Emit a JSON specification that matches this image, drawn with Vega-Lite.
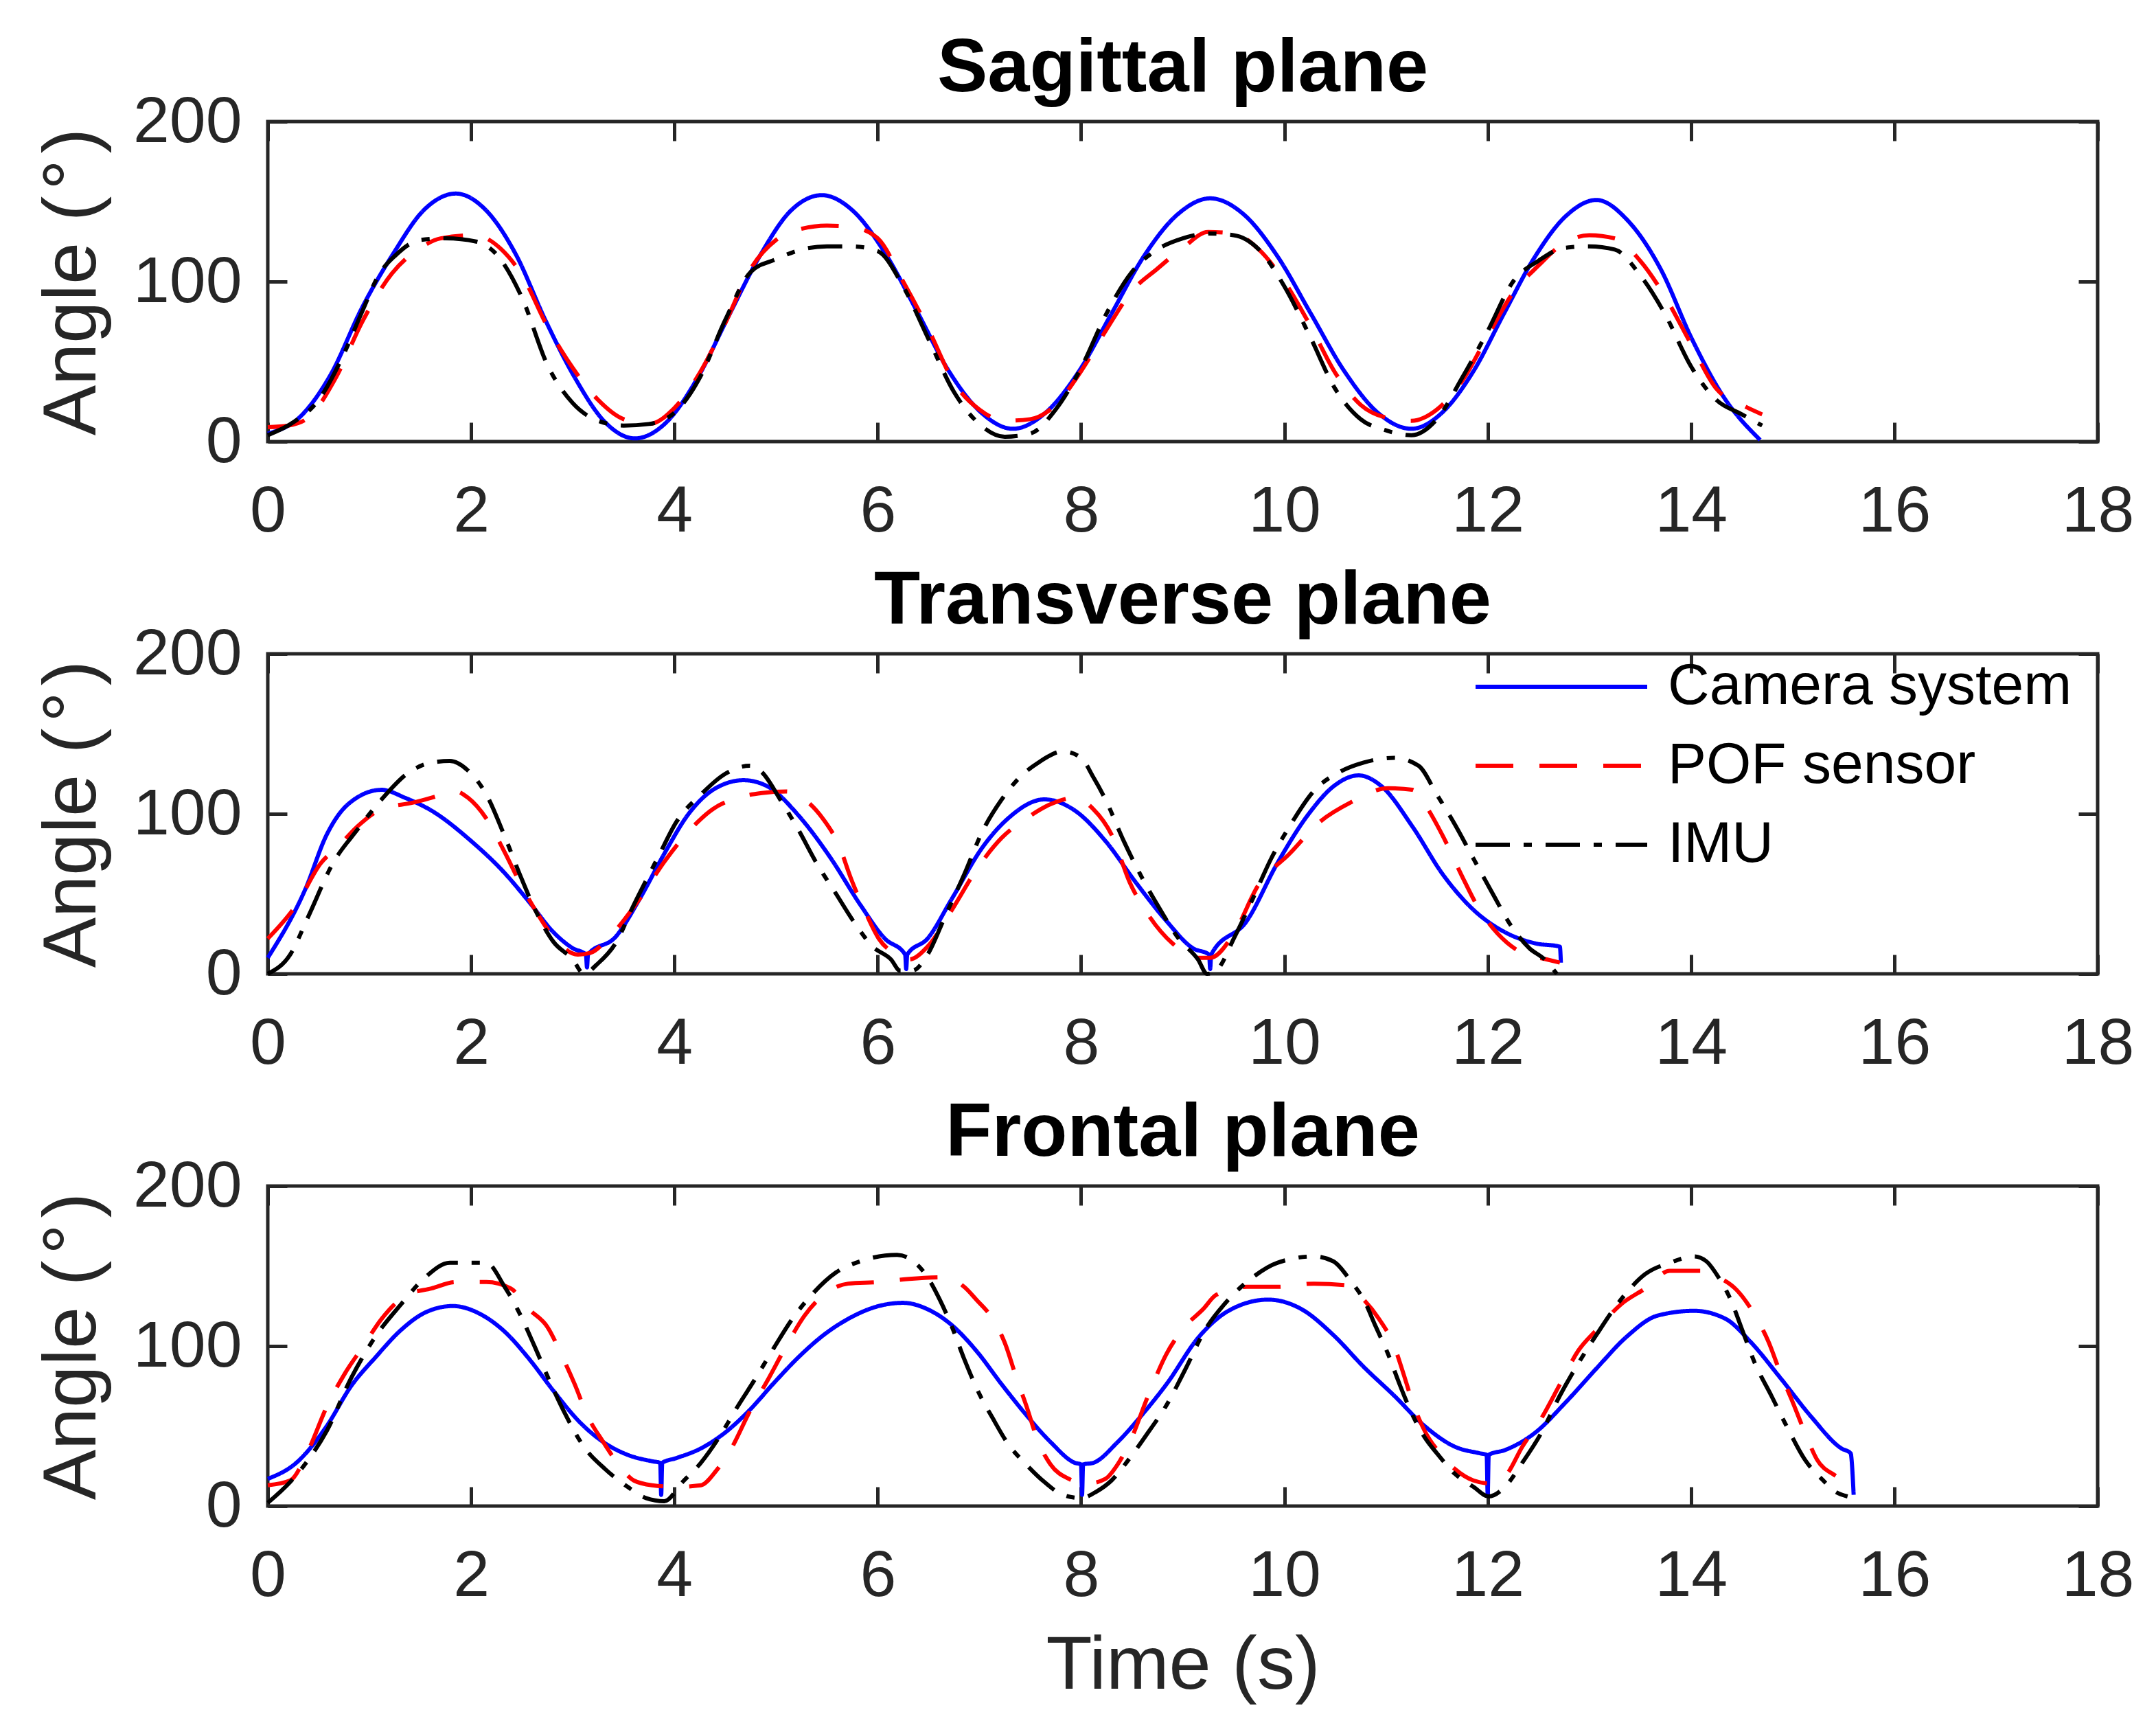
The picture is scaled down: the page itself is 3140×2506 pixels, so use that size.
{
  "$schema": "https://vega.github.io/schema/vega-lite/v6.json",
  "autosize": {"type": "none"},
  "padding": {"left": 390, "top": 177, "right": 2750, "bottom": 2329},
  "config": {
    "font": "Liberation Sans",
    "view": {"stroke": "#262626", "strokeWidth": 5},
    "axis": {
      "domain": false,
      "grid": false,
      "tickColor": "#262626",
      "tickWidth": 5,
      "tickSize": -28,
      "labelColor": "#262626",
      "labelFont": "Liberation Sans",
      "labelFontSize": 95,
      "titleFont": "Liberation Sans",
      "titleFontWeight": "normal",
      "titleColor": "#262626"
    },
    "axisX": {"labelPadding": 83, "labelFlush": false, "labelOverlap": false, "titleFontSize": 110, "titlePadding": 29},
    "axisY": {"labelPadding": 66, "labelOverlap": false, "titleFontSize": 110, "titlePadding": 32},
    "title": {"font": "Liberation Sans", "fontSize": 110, "fontWeight": "bold", "color": "#000000", "frame": "group", "anchor": "middle", "baseline": "alphabetic", "offset": 42, "dy": 68}
  },
  "datasets": {
    "sagittal": [
      {"t": 0, "v": 5, "s": "Camera system"}, {"t": 0.31, "v": 15, "s": "Camera system"}, {"t": 0.62, "v": 42, "s": "Camera system"}, {"t": 0.93, "v": 84, "s": "Camera system"}, {"t": 1.23, "v": 117, "s": "Camera system"}, {"t": 1.54, "v": 145, "s": "Camera system"}, {"t": 1.85, "v": 155, "s": "Camera system"}, {"t": 2.14, "v": 145, "s": "Camera system"}, {"t": 2.44, "v": 117, "s": "Camera system"}, {"t": 2.73, "v": 76, "s": "Camera system"}, {"t": 3.02, "v": 40, "s": "Camera system"}, {"t": 3.32, "v": 12, "s": "Camera system"}, {"t": 3.61, "v": 2, "s": "Camera system"}, {"t": 3.92, "v": 12, "s": "Camera system"}, {"t": 4.23, "v": 40, "s": "Camera system"}, {"t": 4.53, "v": 78, "s": "Camera system"}, {"t": 4.84, "v": 116, "s": "Camera system"}, {"t": 5.14, "v": 144, "s": "Camera system"}, {"t": 5.45, "v": 154, "s": "Camera system"}, {"t": 5.76, "v": 144, "s": "Camera system"}, {"t": 6.08, "v": 117, "s": "Camera system"}, {"t": 6.39, "v": 81, "s": "Camera system"}, {"t": 6.7, "v": 44, "s": "Camera system"}, {"t": 7.02, "v": 18, "s": "Camera system"}, {"t": 7.33, "v": 8, "s": "Camera system"}, {"t": 7.65, "v": 18, "s": "Camera system"}, {"t": 7.98, "v": 44, "s": "Camera system"}, {"t": 8.3, "v": 80, "s": "Camera system"}, {"t": 8.62, "v": 116, "s": "Camera system"}, {"t": 8.95, "v": 142, "s": "Camera system"}, {"t": 9.27, "v": 152, "s": "Camera system"}, {"t": 9.6, "v": 142, "s": "Camera system"}, {"t": 9.93, "v": 116, "s": "Camera system"}, {"t": 10.26, "v": 80, "s": "Camera system"}, {"t": 10.59, "v": 44, "s": "Camera system"}, {"t": 10.92, "v": 18, "s": "Camera system"}, {"t": 11.25, "v": 8, "s": "Camera system"}, {"t": 11.55, "v": 18, "s": "Camera system"}, {"t": 11.86, "v": 44, "s": "Camera system"}, {"t": 12.16, "v": 80, "s": "Camera system"}, {"t": 12.46, "v": 115, "s": "Camera system"}, {"t": 12.77, "v": 141, "s": "Camera system"}, {"t": 13.07, "v": 151, "s": "Camera system"}, {"t": 13.38, "v": 138, "s": "Camera system"}, {"t": 13.7, "v": 108, "s": "Camera system"}, {"t": 14.01, "v": 64, "s": "Camera system"}, {"t": 14.32, "v": 28, "s": "Camera system"}, {"t": 14.68, "v": 1, "s": "Camera system"},
      {"t": 0, "v": 9, "s": "POF sensor"}, {"t": 0.2, "v": 10, "s": "POF sensor"}, {"t": 0.4, "v": 15, "s": "POF sensor"}, {"t": 0.67, "v": 40, "s": "POF sensor"}, {"t": 0.93, "v": 75, "s": "POF sensor"}, {"t": 1.22, "v": 105, "s": "POF sensor"}, {"t": 1.5, "v": 121, "s": "POF sensor"}, {"t": 1.7, "v": 127, "s": "POF sensor"}, {"t": 2.03, "v": 129, "s": "POF sensor"}, {"t": 2.3, "v": 120, "s": "POF sensor"}, {"t": 2.5, "v": 104, "s": "POF sensor"}, {"t": 2.75, "v": 72, "s": "POF sensor"}, {"t": 3.0, "v": 46, "s": "POF sensor"}, {"t": 3.25, "v": 26, "s": "POF sensor"}, {"t": 3.5, "v": 14, "s": "POF sensor"}, {"t": 3.75, "v": 11, "s": "POF sensor"}, {"t": 4.0, "v": 21, "s": "POF sensor"}, {"t": 4.25, "v": 43, "s": "POF sensor"}, {"t": 4.5, "v": 74, "s": "POF sensor"}, {"t": 4.75, "v": 108, "s": "POF sensor"}, {"t": 5.0, "v": 126, "s": "POF sensor"}, {"t": 5.25, "v": 133, "s": "POF sensor"}, {"t": 5.5, "v": 135, "s": "POF sensor"}, {"t": 5.75, "v": 134, "s": "POF sensor"}, {"t": 6.0, "v": 127, "s": "POF sensor"}, {"t": 6.25, "v": 100, "s": "POF sensor"}, {"t": 6.5, "v": 70, "s": "POF sensor"}, {"t": 6.75, "v": 37, "s": "POF sensor"}, {"t": 7.0, "v": 20, "s": "POF sensor"}, {"t": 7.25, "v": 13, "s": "POF sensor"}, {"t": 7.5, "v": 14, "s": "POF sensor"}, {"t": 7.75, "v": 23, "s": "POF sensor"}, {"t": 8.0, "v": 44, "s": "POF sensor"}, {"t": 8.25, "v": 70, "s": "POF sensor"}, {"t": 8.5, "v": 94, "s": "POF sensor"}, {"t": 8.75, "v": 108, "s": "POF sensor"}, {"t": 9.0, "v": 121, "s": "POF sensor"}, {"t": 9.25, "v": 131, "s": "POF sensor"}, {"t": 9.5, "v": 130, "s": "POF sensor"}, {"t": 9.75, "v": 120, "s": "POF sensor"}, {"t": 10.0, "v": 100, "s": "POF sensor"}, {"t": 10.25, "v": 73, "s": "POF sensor"}, {"t": 10.5, "v": 43, "s": "POF sensor"}, {"t": 10.75, "v": 23, "s": "POF sensor"}, {"t": 11.0, "v": 15, "s": "POF sensor"}, {"t": 11.25, "v": 13, "s": "POF sensor"}, {"t": 11.5, "v": 20, "s": "POF sensor"}, {"t": 11.75, "v": 38, "s": "POF sensor"}, {"t": 12.0, "v": 66, "s": "POF sensor"}, {"t": 12.25, "v": 93, "s": "POF sensor"}, {"t": 12.5, "v": 110, "s": "POF sensor"}, {"t": 12.75, "v": 124, "s": "POF sensor"}, {"t": 13.0, "v": 129, "s": "POF sensor"}, {"t": 13.25, "v": 127, "s": "POF sensor"}, {"t": 13.5, "v": 113, "s": "POF sensor"}, {"t": 13.75, "v": 90, "s": "POF sensor"}, {"t": 14.0, "v": 61, "s": "POF sensor"}, {"t": 14.25, "v": 33, "s": "POF sensor"}, {"t": 14.5, "v": 23, "s": "POF sensor"}, {"t": 14.7, "v": 17, "s": "POF sensor"},
      {"t": 0, "v": 4, "s": "IMU"}, {"t": 0.25, "v": 12, "s": "IMU"}, {"t": 0.5, "v": 26, "s": "IMU"}, {"t": 0.75, "v": 55, "s": "IMU"}, {"t": 0.92, "v": 80, "s": "IMU"}, {"t": 1.1, "v": 105, "s": "IMU"}, {"t": 1.25, "v": 116, "s": "IMU"}, {"t": 1.5, "v": 126, "s": "IMU"}, {"t": 1.75, "v": 127, "s": "IMU"}, {"t": 2.05, "v": 125, "s": "IMU"}, {"t": 2.25, "v": 117, "s": "IMU"}, {"t": 2.5, "v": 90, "s": "IMU"}, {"t": 2.75, "v": 48, "s": "IMU"}, {"t": 3.0, "v": 24, "s": "IMU"}, {"t": 3.25, "v": 13, "s": "IMU"}, {"t": 3.5, "v": 10, "s": "IMU"}, {"t": 3.75, "v": 11, "s": "IMU"}, {"t": 4.0, "v": 18, "s": "IMU"}, {"t": 4.25, "v": 40, "s": "IMU"}, {"t": 4.5, "v": 76, "s": "IMU"}, {"t": 4.75, "v": 106, "s": "IMU"}, {"t": 5.0, "v": 114, "s": "IMU"}, {"t": 5.25, "v": 120, "s": "IMU"}, {"t": 5.5, "v": 122, "s": "IMU"}, {"t": 5.75, "v": 122, "s": "IMU"}, {"t": 6.0, "v": 119, "s": "IMU"}, {"t": 6.25, "v": 97, "s": "IMU"}, {"t": 6.5, "v": 64, "s": "IMU"}, {"t": 6.75, "v": 31, "s": "IMU"}, {"t": 7.0, "v": 11, "s": "IMU"}, {"t": 7.25, "v": 3, "s": "IMU"}, {"t": 7.5, "v": 5, "s": "IMU"}, {"t": 7.75, "v": 20, "s": "IMU"}, {"t": 8.0, "v": 46, "s": "IMU"}, {"t": 8.25, "v": 80, "s": "IMU"}, {"t": 8.5, "v": 106, "s": "IMU"}, {"t": 8.75, "v": 120, "s": "IMU"}, {"t": 9.0, "v": 127, "s": "IMU"}, {"t": 9.25, "v": 130, "s": "IMU"}, {"t": 9.5, "v": 129, "s": "IMU"}, {"t": 9.75, "v": 120, "s": "IMU"}, {"t": 10.0, "v": 97, "s": "IMU"}, {"t": 10.25, "v": 66, "s": "IMU"}, {"t": 10.5, "v": 33, "s": "IMU"}, {"t": 10.75, "v": 14, "s": "IMU"}, {"t": 11.0, "v": 7, "s": "IMU"}, {"t": 11.25, "v": 4, "s": "IMU"}, {"t": 11.5, "v": 14, "s": "IMU"}, {"t": 11.75, "v": 40, "s": "IMU"}, {"t": 12.0, "v": 69, "s": "IMU"}, {"t": 12.25, "v": 100, "s": "IMU"}, {"t": 12.5, "v": 113, "s": "IMU"}, {"t": 12.75, "v": 121, "s": "IMU"}, {"t": 13.0, "v": 122, "s": "IMU"}, {"t": 13.25, "v": 120, "s": "IMU"}, {"t": 13.5, "v": 104, "s": "IMU"}, {"t": 13.75, "v": 79, "s": "IMU"}, {"t": 14.0, "v": 47, "s": "IMU"}, {"t": 14.25, "v": 26, "s": "IMU"}, {"t": 14.5, "v": 17, "s": "IMU"}, {"t": 14.7, "v": 10, "s": "IMU"}
    ],
    "transverse": [
      {"t": 0, "v": 10, "s": "Camera system"}, {"t": 0.37, "v": 53, "s": "Camera system"}, {"t": 0.58, "v": 87, "s": "Camera system"}, {"t": 0.79, "v": 106, "s": "Camera system"}, {"t": 1.12, "v": 115, "s": "Camera system"}, {"t": 1.35, "v": 110, "s": "Camera system"}, {"t": 1.61, "v": 102, "s": "Camera system"}, {"t": 2.0, "v": 83, "s": "Camera system"}, {"t": 2.33, "v": 63, "s": "Camera system"}, {"t": 2.57, "v": 45, "s": "Camera system"}, {"t": 2.81, "v": 26, "s": "Camera system"}, {"t": 3.0, "v": 16, "s": "Camera system"}, {"t": 3.13, "v": 12, "s": "Camera system"}, {"t": 3.14, "v": 4, "s": "Camera system"}, {"t": 3.15, "v": 12, "s": "Camera system"}, {"t": 3.42, "v": 23, "s": "Camera system"}, {"t": 3.66, "v": 47, "s": "Camera system"}, {"t": 3.9, "v": 75, "s": "Camera system"}, {"t": 4.14, "v": 100, "s": "Camera system"}, {"t": 4.38, "v": 115, "s": "Camera system"}, {"t": 4.68, "v": 121, "s": "Camera system"}, {"t": 4.92, "v": 117, "s": "Camera system"}, {"t": 5.22, "v": 99, "s": "Camera system"}, {"t": 5.53, "v": 73, "s": "Camera system"}, {"t": 5.83, "v": 43, "s": "Camera system"}, {"t": 6.07, "v": 22, "s": "Camera system"}, {"t": 6.27, "v": 12, "s": "Camera system"}, {"t": 6.28, "v": 3, "s": "Camera system"}, {"t": 6.29, "v": 12, "s": "Camera system"}, {"t": 6.49, "v": 22, "s": "Camera system"}, {"t": 6.73, "v": 47, "s": "Camera system"}, {"t": 7.03, "v": 79, "s": "Camera system"}, {"t": 7.28, "v": 97, "s": "Camera system"}, {"t": 7.64, "v": 109, "s": "Camera system"}, {"t": 7.94, "v": 102, "s": "Camera system"}, {"t": 8.24, "v": 83, "s": "Camera system"}, {"t": 8.54, "v": 57, "s": "Camera system"}, {"t": 8.84, "v": 33, "s": "Camera system"}, {"t": 9.1, "v": 16, "s": "Camera system"}, {"t": 9.26, "v": 12, "s": "Camera system"}, {"t": 9.27, "v": 3, "s": "Camera system"}, {"t": 9.28, "v": 12, "s": "Camera system"}, {"t": 9.63, "v": 33, "s": "Camera system"}, {"t": 9.93, "v": 69, "s": "Camera system"}, {"t": 10.24, "v": 100, "s": "Camera system"}, {"t": 10.48, "v": 117, "s": "Camera system"}, {"t": 10.73, "v": 124, "s": "Camera system"}, {"t": 10.96, "v": 117, "s": "Camera system"}, {"t": 11.26, "v": 92, "s": "Camera system"}, {"t": 11.56, "v": 62, "s": "Camera system"}, {"t": 11.86, "v": 40, "s": "Camera system"}, {"t": 12.17, "v": 26, "s": "Camera system"}, {"t": 12.47, "v": 19, "s": "Camera system"}, {"t": 12.71, "v": 17, "s": "Camera system"}, {"t": 12.72, "v": 7, "s": "Camera system"},
      {"t": 0, "v": 22, "s": "POF sensor"}, {"t": 0.28, "v": 43, "s": "POF sensor"}, {"t": 0.52, "v": 69, "s": "POF sensor"}, {"t": 0.7, "v": 80, "s": "POF sensor"}, {"t": 0.88, "v": 92, "s": "POF sensor"}, {"t": 1.12, "v": 103, "s": "POF sensor"}, {"t": 1.43, "v": 107, "s": "POF sensor"}, {"t": 1.61, "v": 110, "s": "POF sensor"}, {"t": 1.85, "v": 114, "s": "POF sensor"}, {"t": 1.97, "v": 110, "s": "POF sensor"}, {"t": 2.15, "v": 97, "s": "POF sensor"}, {"t": 2.33, "v": 76, "s": "POF sensor"}, {"t": 2.48, "v": 57, "s": "POF sensor"}, {"t": 2.63, "v": 40, "s": "POF sensor"}, {"t": 2.81, "v": 23, "s": "POF sensor"}, {"t": 3.05, "v": 12, "s": "POF sensor"}, {"t": 3.17, "v": 13, "s": "POF sensor"}, {"t": 3.36, "v": 23, "s": "POF sensor"}, {"t": 3.66, "v": 47, "s": "POF sensor"}, {"t": 3.9, "v": 70, "s": "POF sensor"}, {"t": 4.14, "v": 89, "s": "POF sensor"}, {"t": 4.38, "v": 103, "s": "POF sensor"}, {"t": 4.62, "v": 110, "s": "POF sensor"}, {"t": 4.86, "v": 113, "s": "POF sensor"}, {"t": 5.1, "v": 114, "s": "POF sensor"}, {"t": 5.28, "v": 109, "s": "POF sensor"}, {"t": 5.46, "v": 97, "s": "POF sensor"}, {"t": 5.62, "v": 80, "s": "POF sensor"}, {"t": 5.74, "v": 59, "s": "POF sensor"}, {"t": 5.89, "v": 37, "s": "POF sensor"}, {"t": 6.01, "v": 22, "s": "POF sensor"}, {"t": 6.19, "v": 12, "s": "POF sensor"}, {"t": 6.31, "v": 9, "s": "POF sensor"}, {"t": 6.49, "v": 17, "s": "POF sensor"}, {"t": 6.73, "v": 40, "s": "POF sensor"}, {"t": 6.97, "v": 65, "s": "POF sensor"}, {"t": 7.22, "v": 85, "s": "POF sensor"}, {"t": 7.46, "v": 97, "s": "POF sensor"}, {"t": 7.7, "v": 106, "s": "POF sensor"}, {"t": 7.94, "v": 110, "s": "POF sensor"}, {"t": 8.12, "v": 103, "s": "POF sensor"}, {"t": 8.3, "v": 87, "s": "POF sensor"}, {"t": 8.48, "v": 57, "s": "POF sensor"}, {"t": 8.66, "v": 37, "s": "POF sensor"}, {"t": 8.9, "v": 19, "s": "POF sensor"}, {"t": 9.15, "v": 10, "s": "POF sensor"}, {"t": 9.27, "v": 10, "s": "POF sensor"}, {"t": 9.51, "v": 26, "s": "POF sensor"}, {"t": 9.74, "v": 55, "s": "POF sensor"}, {"t": 10.05, "v": 75, "s": "POF sensor"}, {"t": 10.35, "v": 95, "s": "POF sensor"}, {"t": 10.65, "v": 107, "s": "POF sensor"}, {"t": 11.02, "v": 116, "s": "POF sensor"}, {"t": 11.26, "v": 115, "s": "POF sensor"}, {"t": 11.38, "v": 106, "s": "POF sensor"}, {"t": 11.56, "v": 86, "s": "POF sensor"}, {"t": 11.74, "v": 62, "s": "POF sensor"}, {"t": 11.92, "v": 40, "s": "POF sensor"}, {"t": 12.1, "v": 25, "s": "POF sensor"}, {"t": 12.34, "v": 13, "s": "POF sensor"}, {"t": 12.58, "v": 9, "s": "POF sensor"}, {"t": 12.71, "v": 7, "s": "POF sensor"},
      {"t": 0, "v": 0, "s": "IMU"}, {"t": 0.22, "v": 12, "s": "IMU"}, {"t": 0.4, "v": 36, "s": "IMU"}, {"t": 0.64, "v": 69, "s": "IMU"}, {"t": 0.88, "v": 90, "s": "IMU"}, {"t": 1.12, "v": 109, "s": "IMU"}, {"t": 1.37, "v": 125, "s": "IMU"}, {"t": 1.61, "v": 132, "s": "IMU"}, {"t": 1.79, "v": 133, "s": "IMU"}, {"t": 1.97, "v": 127, "s": "IMU"}, {"t": 2.15, "v": 112, "s": "IMU"}, {"t": 2.33, "v": 86, "s": "IMU"}, {"t": 2.48, "v": 62, "s": "IMU"}, {"t": 2.63, "v": 40, "s": "IMU"}, {"t": 2.81, "v": 20, "s": "IMU"}, {"t": 3.0, "v": 9, "s": "IMU"}, {"t": 3.11, "v": 0, "s": "IMU"}, {"t": 3.24, "v": 6, "s": "IMU"}, {"t": 3.42, "v": 19, "s": "IMU"}, {"t": 3.6, "v": 43, "s": "IMU"}, {"t": 3.84, "v": 73, "s": "IMU"}, {"t": 4.02, "v": 95, "s": "IMU"}, {"t": 4.26, "v": 112, "s": "IMU"}, {"t": 4.5, "v": 125, "s": "IMU"}, {"t": 4.74, "v": 130, "s": "IMU"}, {"t": 4.86, "v": 126, "s": "IMU"}, {"t": 5.04, "v": 109, "s": "IMU"}, {"t": 5.22, "v": 90, "s": "IMU"}, {"t": 5.4, "v": 69, "s": "IMU"}, {"t": 5.59, "v": 50, "s": "IMU"}, {"t": 5.77, "v": 32, "s": "IMU"}, {"t": 5.95, "v": 17, "s": "IMU"}, {"t": 6.13, "v": 9, "s": "IMU"}, {"t": 6.22, "v": 2, "s": "IMU"}, {"t": 6.34, "v": 2, "s": "IMU"}, {"t": 6.49, "v": 12, "s": "IMU"}, {"t": 6.67, "v": 37, "s": "IMU"}, {"t": 6.85, "v": 62, "s": "IMU"}, {"t": 7.03, "v": 89, "s": "IMU"}, {"t": 7.22, "v": 109, "s": "IMU"}, {"t": 7.4, "v": 123, "s": "IMU"}, {"t": 7.58, "v": 132, "s": "IMU"}, {"t": 7.82, "v": 139, "s": "IMU"}, {"t": 8.0, "v": 135, "s": "IMU"}, {"t": 8.12, "v": 123, "s": "IMU"}, {"t": 8.24, "v": 109, "s": "IMU"}, {"t": 8.42, "v": 83, "s": "IMU"}, {"t": 8.6, "v": 60, "s": "IMU"}, {"t": 8.78, "v": 40, "s": "IMU"}, {"t": 8.96, "v": 22, "s": "IMU"}, {"t": 9.15, "v": 9, "s": "IMU"}, {"t": 9.24, "v": 0, "s": "IMU"}, {"t": 9.33, "v": 2, "s": "IMU"}, {"t": 9.51, "v": 23, "s": "IMU"}, {"t": 9.69, "v": 47, "s": "IMU"}, {"t": 9.87, "v": 72, "s": "IMU"}, {"t": 10.05, "v": 92, "s": "IMU"}, {"t": 10.3, "v": 115, "s": "IMU"}, {"t": 10.54, "v": 126, "s": "IMU"}, {"t": 10.78, "v": 132, "s": "IMU"}, {"t": 11.08, "v": 135, "s": "IMU"}, {"t": 11.32, "v": 130, "s": "IMU"}, {"t": 11.5, "v": 112, "s": "IMU"}, {"t": 11.68, "v": 93, "s": "IMU"}, {"t": 11.86, "v": 72, "s": "IMU"}, {"t": 12.05, "v": 50, "s": "IMU"}, {"t": 12.23, "v": 30, "s": "IMU"}, {"t": 12.41, "v": 16, "s": "IMU"}, {"t": 12.56, "v": 9, "s": "IMU"}, {"t": 12.68, "v": 0, "s": "IMU"}
    ],
    "frontal": [
      {"t": 0, "v": 17, "s": "Camera system"}, {"t": 0.28, "v": 27, "s": "Camera system"}, {"t": 0.58, "v": 50, "s": "Camera system"}, {"t": 0.82, "v": 75, "s": "Camera system"}, {"t": 1.06, "v": 93, "s": "Camera system"}, {"t": 1.31, "v": 110, "s": "Camera system"}, {"t": 1.55, "v": 121, "s": "Camera system"}, {"t": 1.82, "v": 125, "s": "Camera system"}, {"t": 2.09, "v": 120, "s": "Camera system"}, {"t": 2.33, "v": 109, "s": "Camera system"}, {"t": 2.57, "v": 92, "s": "Camera system"}, {"t": 2.81, "v": 72, "s": "Camera system"}, {"t": 3.06, "v": 53, "s": "Camera system"}, {"t": 3.3, "v": 40, "s": "Camera system"}, {"t": 3.54, "v": 32, "s": "Camera system"}, {"t": 3.78, "v": 28, "s": "Camera system"}, {"t": 3.86, "v": 27, "s": "Camera system"}, {"t": 3.87, "v": 7, "s": "Camera system"}, {"t": 3.88, "v": 27, "s": "Camera system"}, {"t": 4.02, "v": 30, "s": "Camera system"}, {"t": 4.26, "v": 36, "s": "Camera system"}, {"t": 4.5, "v": 46, "s": "Camera system"}, {"t": 4.74, "v": 60, "s": "Camera system"}, {"t": 4.98, "v": 77, "s": "Camera system"}, {"t": 5.22, "v": 93, "s": "Camera system"}, {"t": 5.47, "v": 107, "s": "Camera system"}, {"t": 5.71, "v": 117, "s": "Camera system"}, {"t": 6.01, "v": 125, "s": "Camera system"}, {"t": 6.25, "v": 127, "s": "Camera system"}, {"t": 6.49, "v": 123, "s": "Camera system"}, {"t": 6.73, "v": 113, "s": "Camera system"}, {"t": 6.97, "v": 97, "s": "Camera system"}, {"t": 7.22, "v": 76, "s": "Camera system"}, {"t": 7.46, "v": 57, "s": "Camera system"}, {"t": 7.7, "v": 40, "s": "Camera system"}, {"t": 7.94, "v": 27, "s": "Camera system"}, {"t": 8.0, "v": 26, "s": "Camera system"}, {"t": 8.01, "v": 7, "s": "Camera system"}, {"t": 8.02, "v": 26, "s": "Camera system"}, {"t": 8.12, "v": 27, "s": "Camera system"}, {"t": 8.36, "v": 40, "s": "Camera system"}, {"t": 8.6, "v": 57, "s": "Camera system"}, {"t": 8.85, "v": 77, "s": "Camera system"}, {"t": 9.15, "v": 105, "s": "Camera system"}, {"t": 9.45, "v": 122, "s": "Camera system"}, {"t": 9.84, "v": 129, "s": "Camera system"}, {"t": 10.17, "v": 123, "s": "Camera system"}, {"t": 10.48, "v": 107, "s": "Camera system"}, {"t": 10.78, "v": 87, "s": "Camera system"}, {"t": 11.08, "v": 69, "s": "Camera system"}, {"t": 11.38, "v": 50, "s": "Camera system"}, {"t": 11.68, "v": 37, "s": "Camera system"}, {"t": 11.92, "v": 33, "s": "Camera system"}, {"t": 11.99, "v": 32, "s": "Camera system"}, {"t": 12.0, "v": 7, "s": "Camera system"}, {"t": 12.01, "v": 32, "s": "Camera system"}, {"t": 12.17, "v": 35, "s": "Camera system"}, {"t": 12.47, "v": 46, "s": "Camera system"}, {"t": 12.77, "v": 65, "s": "Camera system"}, {"t": 13.07, "v": 86, "s": "Camera system"}, {"t": 13.37, "v": 106, "s": "Camera system"}, {"t": 13.67, "v": 119, "s": "Camera system"}, {"t": 14.03, "v": 122, "s": "Camera system"}, {"t": 14.34, "v": 117, "s": "Camera system"}, {"t": 14.58, "v": 103, "s": "Camera system"}, {"t": 14.88, "v": 80, "s": "Camera system"}, {"t": 15.18, "v": 56, "s": "Camera system"}, {"t": 15.48, "v": 36, "s": "Camera system"}, {"t": 15.57, "v": 33, "s": "Camera system"}, {"t": 15.6, "v": 7, "s": "Camera system"},
      {"t": 0, "v": 13, "s": "POF sensor"}, {"t": 0.22, "v": 16, "s": "POF sensor"}, {"t": 0.4, "v": 35, "s": "POF sensor"}, {"t": 0.58, "v": 62, "s": "POF sensor"}, {"t": 0.76, "v": 83, "s": "POF sensor"}, {"t": 0.94, "v": 100, "s": "POF sensor"}, {"t": 1.12, "v": 117, "s": "POF sensor"}, {"t": 1.37, "v": 132, "s": "POF sensor"}, {"t": 1.61, "v": 136, "s": "POF sensor"}, {"t": 1.85, "v": 140, "s": "POF sensor"}, {"t": 2.15, "v": 140, "s": "POF sensor"}, {"t": 2.39, "v": 136, "s": "POF sensor"}, {"t": 2.57, "v": 123, "s": "POF sensor"}, {"t": 2.75, "v": 112, "s": "POF sensor"}, {"t": 2.9, "v": 93, "s": "POF sensor"}, {"t": 3.02, "v": 76, "s": "POF sensor"}, {"t": 3.14, "v": 57, "s": "POF sensor"}, {"t": 3.3, "v": 40, "s": "POF sensor"}, {"t": 3.45, "v": 26, "s": "POF sensor"}, {"t": 3.6, "v": 16, "s": "POF sensor"}, {"t": 3.78, "v": 13, "s": "POF sensor"}, {"t": 4.02, "v": 12, "s": "POF sensor"}, {"t": 4.26, "v": 13, "s": "POF sensor"}, {"t": 4.41, "v": 22, "s": "POF sensor"}, {"t": 4.56, "v": 36, "s": "POF sensor"}, {"t": 4.74, "v": 59, "s": "POF sensor"}, {"t": 4.92, "v": 79, "s": "POF sensor"}, {"t": 5.1, "v": 100, "s": "POF sensor"}, {"t": 5.28, "v": 119, "s": "POF sensor"}, {"t": 5.47, "v": 132, "s": "POF sensor"}, {"t": 5.71, "v": 139, "s": "POF sensor"}, {"t": 6.01, "v": 140, "s": "POF sensor"}, {"t": 6.31, "v": 142, "s": "POF sensor"}, {"t": 6.67, "v": 143, "s": "POF sensor"}, {"t": 6.85, "v": 137, "s": "POF sensor"}, {"t": 6.97, "v": 129, "s": "POF sensor"}, {"t": 7.13, "v": 117, "s": "POF sensor"}, {"t": 7.25, "v": 102, "s": "POF sensor"}, {"t": 7.37, "v": 79, "s": "POF sensor"}, {"t": 7.46, "v": 63, "s": "POF sensor"}, {"t": 7.58, "v": 40, "s": "POF sensor"}, {"t": 7.7, "v": 26, "s": "POF sensor"}, {"t": 7.88, "v": 17, "s": "POF sensor"}, {"t": 8.06, "v": 14, "s": "POF sensor"}, {"t": 8.24, "v": 17, "s": "POF sensor"}, {"t": 8.36, "v": 26, "s": "POF sensor"}, {"t": 8.48, "v": 40, "s": "POF sensor"}, {"t": 8.66, "v": 69, "s": "POF sensor"}, {"t": 8.84, "v": 95, "s": "POF sensor"}, {"t": 9.02, "v": 112, "s": "POF sensor"}, {"t": 9.2, "v": 123, "s": "POF sensor"}, {"t": 9.33, "v": 132, "s": "POF sensor"}, {"t": 9.63, "v": 137, "s": "POF sensor"}, {"t": 9.93, "v": 137, "s": "POF sensor"}, {"t": 10.29, "v": 139, "s": "POF sensor"}, {"t": 10.6, "v": 138, "s": "POF sensor"}, {"t": 10.78, "v": 129, "s": "POF sensor"}, {"t": 10.93, "v": 117, "s": "POF sensor"}, {"t": 11.08, "v": 100, "s": "POF sensor"}, {"t": 11.17, "v": 83, "s": "POF sensor"}, {"t": 11.26, "v": 65, "s": "POF sensor"}, {"t": 11.38, "v": 47, "s": "POF sensor"}, {"t": 11.53, "v": 33, "s": "POF sensor"}, {"t": 11.68, "v": 23, "s": "POF sensor"}, {"t": 11.86, "v": 16, "s": "POF sensor"}, {"t": 12.04, "v": 14, "s": "POF sensor"}, {"t": 12.19, "v": 20, "s": "POF sensor"}, {"t": 12.34, "v": 37, "s": "POF sensor"}, {"t": 12.53, "v": 55, "s": "POF sensor"}, {"t": 12.71, "v": 76, "s": "POF sensor"}, {"t": 12.89, "v": 97, "s": "POF sensor"}, {"t": 13.07, "v": 110, "s": "POF sensor"}, {"t": 13.31, "v": 126, "s": "POF sensor"}, {"t": 13.55, "v": 136, "s": "POF sensor"}, {"t": 13.79, "v": 147, "s": "POF sensor"}, {"t": 14.09, "v": 147, "s": "POF sensor"}, {"t": 14.27, "v": 143, "s": "POF sensor"}, {"t": 14.45, "v": 135, "s": "POF sensor"}, {"t": 14.63, "v": 119, "s": "POF sensor"}, {"t": 14.76, "v": 103, "s": "POF sensor"}, {"t": 14.88, "v": 83, "s": "POF sensor"}, {"t": 15.0, "v": 65, "s": "POF sensor"}, {"t": 15.12, "v": 46, "s": "POF sensor"}, {"t": 15.24, "v": 29, "s": "POF sensor"}, {"t": 15.42, "v": 19, "s": "POF sensor"}, {"t": 15.6, "v": 13, "s": "POF sensor"},
      {"t": 0, "v": 2, "s": "IMU"}, {"t": 0.22, "v": 15, "s": "IMU"}, {"t": 0.4, "v": 29, "s": "IMU"}, {"t": 0.58, "v": 47, "s": "IMU"}, {"t": 0.82, "v": 80, "s": "IMU"}, {"t": 1.06, "v": 106, "s": "IMU"}, {"t": 1.31, "v": 126, "s": "IMU"}, {"t": 1.55, "v": 143, "s": "IMU"}, {"t": 1.79, "v": 152, "s": "IMU"}, {"t": 2.15, "v": 152, "s": "IMU"}, {"t": 2.33, "v": 137, "s": "IMU"}, {"t": 2.48, "v": 120, "s": "IMU"}, {"t": 2.63, "v": 99, "s": "IMU"}, {"t": 2.78, "v": 77, "s": "IMU"}, {"t": 2.93, "v": 57, "s": "IMU"}, {"t": 3.11, "v": 37, "s": "IMU"}, {"t": 3.32, "v": 23, "s": "IMU"}, {"t": 3.54, "v": 12, "s": "IMU"}, {"t": 3.72, "v": 5, "s": "IMU"}, {"t": 3.9, "v": 3, "s": "IMU"}, {"t": 4.08, "v": 15, "s": "IMU"}, {"t": 4.26, "v": 27, "s": "IMU"}, {"t": 4.44, "v": 43, "s": "IMU"}, {"t": 4.62, "v": 62, "s": "IMU"}, {"t": 4.8, "v": 80, "s": "IMU"}, {"t": 4.98, "v": 99, "s": "IMU"}, {"t": 5.16, "v": 117, "s": "IMU"}, {"t": 5.35, "v": 132, "s": "IMU"}, {"t": 5.59, "v": 146, "s": "IMU"}, {"t": 5.83, "v": 153, "s": "IMU"}, {"t": 6.19, "v": 157, "s": "IMU"}, {"t": 6.37, "v": 152, "s": "IMU"}, {"t": 6.49, "v": 143, "s": "IMU"}, {"t": 6.61, "v": 129, "s": "IMU"}, {"t": 6.73, "v": 112, "s": "IMU"}, {"t": 6.85, "v": 92, "s": "IMU"}, {"t": 7.0, "v": 70, "s": "IMU"}, {"t": 7.13, "v": 55, "s": "IMU"}, {"t": 7.28, "v": 39, "s": "IMU"}, {"t": 7.46, "v": 26, "s": "IMU"}, {"t": 7.64, "v": 15, "s": "IMU"}, {"t": 7.82, "v": 7, "s": "IMU"}, {"t": 8.0, "v": 5, "s": "IMU"}, {"t": 8.15, "v": 9, "s": "IMU"}, {"t": 8.3, "v": 16, "s": "IMU"}, {"t": 8.48, "v": 30, "s": "IMU"}, {"t": 8.66, "v": 46, "s": "IMU"}, {"t": 8.84, "v": 63, "s": "IMU"}, {"t": 9.03, "v": 86, "s": "IMU"}, {"t": 9.21, "v": 109, "s": "IMU"}, {"t": 9.45, "v": 129, "s": "IMU"}, {"t": 9.69, "v": 143, "s": "IMU"}, {"t": 9.93, "v": 152, "s": "IMU"}, {"t": 10.29, "v": 156, "s": "IMU"}, {"t": 10.48, "v": 153, "s": "IMU"}, {"t": 10.66, "v": 140, "s": "IMU"}, {"t": 10.78, "v": 129, "s": "IMU"}, {"t": 10.9, "v": 112, "s": "IMU"}, {"t": 11.02, "v": 95, "s": "IMU"}, {"t": 11.14, "v": 75, "s": "IMU"}, {"t": 11.26, "v": 57, "s": "IMU"}, {"t": 11.38, "v": 43, "s": "IMU"}, {"t": 11.5, "v": 33, "s": "IMU"}, {"t": 11.68, "v": 20, "s": "IMU"}, {"t": 11.86, "v": 12, "s": "IMU"}, {"t": 12.01, "v": 6, "s": "IMU"}, {"t": 12.17, "v": 12, "s": "IMU"}, {"t": 12.34, "v": 27, "s": "IMU"}, {"t": 12.53, "v": 46, "s": "IMU"}, {"t": 12.71, "v": 69, "s": "IMU"}, {"t": 12.89, "v": 89, "s": "IMU"}, {"t": 13.07, "v": 107, "s": "IMU"}, {"t": 13.31, "v": 129, "s": "IMU"}, {"t": 13.55, "v": 145, "s": "IMU"}, {"t": 13.79, "v": 152, "s": "IMU"}, {"t": 14.03, "v": 156, "s": "IMU"}, {"t": 14.15, "v": 153, "s": "IMU"}, {"t": 14.27, "v": 143, "s": "IMU"}, {"t": 14.39, "v": 129, "s": "IMU"}, {"t": 14.51, "v": 109, "s": "IMU"}, {"t": 14.63, "v": 89, "s": "IMU"}, {"t": 14.79, "v": 69, "s": "IMU"}, {"t": 14.94, "v": 50, "s": "IMU"}, {"t": 15.12, "v": 29, "s": "IMU"}, {"t": 15.3, "v": 16, "s": "IMU"}, {"t": 15.42, "v": 9, "s": "IMU"}, {"t": 15.54, "v": 6, "s": "IMU"}
    ]
  },
  "bounds": "flush",
  "spacing": 309,
  "resolve": {"scale": {"color": "independent", "strokeDash": "independent"}, "legend": {"color": "independent", "strokeDash": "independent"}},
  "vconcat": [
    {
      "title": {"text": "Sagittal plane"},
      "width": 2665,
      "height": 466,
      "data": {"name": "sagittal"},
      "layer": [
        {
          "mark": {"type": "line", "strokeWidth": 6, "interpolate": "monotone"},
          "encoding": {
            "x": {"field": "t", "type": "quantitative", "scale": {"domain": [0, 18], "nice": false}, "axis": {"orient": "bottom", "values": [0, 2, 4, 6, 8, 10, 12, 14, 16, 18], "title": null}},
            "y": {"field": "v", "type": "quantitative", "scale": {"domain": [0, 200], "nice": false}, "axis": {"orient": "left", "values": [0, 100, 200], "title": "Angle (\u200a°\u200a)"}},
            "color": {"field": "s", "type": "nominal", "scale": {"domain": ["Camera system", "POF sensor", "IMU"], "range": ["#0000ff", "#ff0000", "#000000"]}, "legend": null},
            "strokeDash": {"field": "s", "type": "nominal", "scale": {"domain": ["Camera system", "POF sensor", "IMU"], "range": [[1, 0], [55, 38], [50, 20, 12, 20]]}, "legend": null}
          }
        },
        {
          "mark": {"type": "line", "strokeOpacity": 0},
          "encoding": {
            "x": {"field": "t", "type": "quantitative", "scale": {"domain": [0, 18], "nice": false}, "axis": {"orient": "top", "values": [0, 2, 4, 6, 8, 10, 12, 14, 16, 18], "labels": false, "title": null}},
            "y": {"field": "v", "type": "quantitative", "scale": {"domain": [0, 200], "nice": false}, "axis": {"orient": "right", "values": [0, 100, 200], "labels": false, "title": null}}
          }
        }
      ],
      "resolve": {"scale": {"x": "independent", "y": "independent"}, "axis": {"x": "independent", "y": "independent"}}
    },
    {
      "title": {"text": "Transverse plane"},
      "width": 2665,
      "height": 466,
      "data": {"name": "transverse"},
      "layer": [
        {
          "mark": {"type": "line", "strokeWidth": 6, "interpolate": "monotone"},
          "encoding": {
            "x": {"field": "t", "type": "quantitative", "scale": {"domain": [0, 18], "nice": false}, "axis": {"orient": "bottom", "values": [0, 2, 4, 6, 8, 10, 12, 14, 16, 18], "title": null}},
            "y": {"field": "v", "type": "quantitative", "scale": {"domain": [0, 200], "nice": false}, "axis": {"orient": "left", "values": [0, 100, 200], "title": "Angle (\u200a°\u200a)"}},
            "color": {
              "field": "s", "type": "nominal",
              "scale": {"domain": ["Camera system", "POF sensor", "IMU"], "range": ["#0000ff", "#ff0000", "#000000"]},
              "legend": {"orient": "none", "legendX": 1756, "legendY": 6, "title": null, "symbolType": "stroke", "symbolSize": 62500, "symbolStrokeWidth": 6, "clipHeight": 84, "labelFont": "Liberation Sans", "labelFontSize": 84, "labelColor": "#000000", "labelOffset": 27, "rowPadding": 31, "padding": 0, "labelLimit": 0}
            },
            "strokeDash": {
              "field": "s", "type": "nominal",
              "scale": {"domain": ["Camera system", "POF sensor", "IMU"], "range": [[1, 0], [55, 38], [50, 20, 12, 20]]},
              "legend": {"orient": "none", "legendX": 1756, "legendY": 6, "title": null, "symbolType": "stroke", "symbolSize": 62500, "symbolStrokeWidth": 6, "clipHeight": 84, "labelFont": "Liberation Sans", "labelFontSize": 84, "labelColor": "#000000", "labelOffset": 27, "rowPadding": 31, "padding": 0, "labelLimit": 0}
            }
          }
        },
        {
          "mark": {"type": "line", "strokeOpacity": 0},
          "encoding": {
            "x": {"field": "t", "type": "quantitative", "scale": {"domain": [0, 18], "nice": false}, "axis": {"orient": "top", "values": [0, 2, 4, 6, 8, 10, 12, 14, 16, 18], "labels": false, "title": null}},
            "y": {"field": "v", "type": "quantitative", "scale": {"domain": [0, 200], "nice": false}, "axis": {"orient": "right", "values": [0, 100, 200], "labels": false, "title": null}}
          }
        }
      ],
      "resolve": {"scale": {"x": "independent", "y": "independent"}, "axis": {"x": "independent", "y": "independent"}}
    },
    {
      "title": {"text": "Frontal plane"},
      "width": 2665,
      "height": 466,
      "data": {"name": "frontal"},
      "layer": [
        {
          "mark": {"type": "line", "strokeWidth": 6, "interpolate": "monotone"},
          "encoding": {
            "x": {"field": "t", "type": "quantitative", "scale": {"domain": [0, 18], "nice": false}, "axis": {"orient": "bottom", "values": [0, 2, 4, 6, 8, 10, 12, 14, 16, 18], "title": "Time (s)"}},
            "y": {"field": "v", "type": "quantitative", "scale": {"domain": [0, 200], "nice": false}, "axis": {"orient": "left", "values": [0, 100, 200], "title": "Angle (\u200a°\u200a)"}},
            "color": {"field": "s", "type": "nominal", "scale": {"domain": ["Camera system", "POF sensor", "IMU"], "range": ["#0000ff", "#ff0000", "#000000"]}, "legend": null},
            "strokeDash": {"field": "s", "type": "nominal", "scale": {"domain": ["Camera system", "POF sensor", "IMU"], "range": [[1, 0], [55, 38], [50, 20, 12, 20]]}, "legend": null}
          }
        },
        {
          "mark": {"type": "line", "strokeOpacity": 0},
          "encoding": {
            "x": {"field": "t", "type": "quantitative", "scale": {"domain": [0, 18], "nice": false}, "axis": {"orient": "top", "values": [0, 2, 4, 6, 8, 10, 12, 14, 16, 18], "labels": false, "title": null}},
            "y": {"field": "v", "type": "quantitative", "scale": {"domain": [0, 200], "nice": false}, "axis": {"orient": "right", "values": [0, 100, 200], "labels": false, "title": null}}
          }
        }
      ],
      "resolve": {"scale": {"x": "independent", "y": "independent"}, "axis": {"x": "independent", "y": "independent"}}
    }
  ]
}
